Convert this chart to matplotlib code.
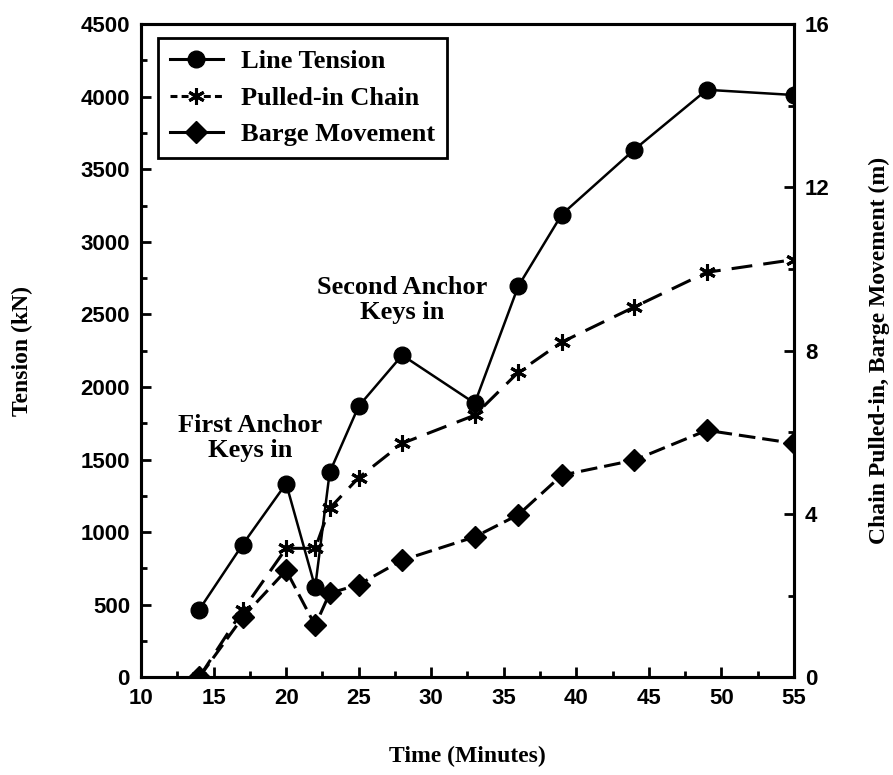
import numpy as np
import matplotlib
matplotlib.use("Agg")
import matplotlib.pyplot as plt
from matplotlib.lines import Line2D
from matplotlib.ticker import MultipleLocator

time = [14, 17, 20, 22, 23, 25, 28, 33, 36, 39, 44, 49, 55]
tension = [465, 915, 1335, 620, 1412, 1868, 2219, 1888, 2694, 3188, 3635, 4047, 4011]
chain = [0, 1.64, 3.16, 3.16, 4.14, 4.89, 5.73, 6.42, 7.47, 8.21, 9.07, 9.92, 10.23]
barge = [0, 1.47, 2.62, 1.27, 2.06, 2.27, 2.87, 3.44, 3.98, 4.95, 5.32, 6.05, 5.73]

plt.rcParams['lines.scale_dashes'] = False
serif = {'family': 'Liberation Serif', 'weight': 'bold'}
sans = 'Liberation Sans'

fig = plt.figure(figsize=(8.93, 7.75), dpi=100)
ax = fig.add_axes([0.158, 0.126, 0.731, 0.843])
ax2 = ax.twinx()

lw = 1.8
ax.plot(time, tension, color='black', lw=lw, marker='o', ms=12, zorder=3)
ax2.plot(time, chain, color='black', lw=2.2, dashes=(15, 8), marker=(6, 2, 0),
         ms=12, mew=2.2, zorder=3)
ax2.plot(time, barge, color='black', lw=2.2, dashes=(12, 5), marker='D', ms=11, zorder=3)

ax.set_xlim(10, 55)
ax.set_ylim(0, 4500)
ax2.set_ylim(0, 16)

ax.xaxis.set_major_locator(MultipleLocator(5))
ax.xaxis.set_minor_locator(MultipleLocator(2.5))
ax.yaxis.set_major_locator(MultipleLocator(500))
ax.yaxis.set_minor_locator(MultipleLocator(250))
ax2.yaxis.set_major_locator(MultipleLocator(4))
ax2.yaxis.set_minor_locator(MultipleLocator(2))

for a in (ax, ax2):
    for s in a.spines.values():
        s.set_linewidth(2.2)
    a.tick_params(which='both', direction='in', width=2, colors='black')
    a.tick_params(which='major', length=7, labelsize=16, pad=8)
    a.tick_params(which='minor', length=4)
    for lab in a.get_xticklabels() + a.get_yticklabels():
        lab.set_family(sans)
        lab.set_fontweight('bold')
ax.tick_params(axis='x', top=False)
ax.tick_params(axis='y', right=False)

ax.set_xlabel('Time (Minutes)', fontdict=serif, fontsize=17, labelpad=26)
ax.set_ylabel('Tension (kN)', fontdict=serif, fontsize=17, labelpad=34)
ax2.set_ylabel('Chain Pulled-in, Barge Movement (m)', fontdict=serif, fontsize=17, labelpad=28)

ax.text(17.5, 1650, 'First Anchor\nKeys in', ha='center', va='center',
        fontdict=serif, fontsize=19, linespacing=1.1)
ax.text(28, 2600, 'Second Anchor\nKeys in', ha='center', va='center',
        fontdict=serif, fontsize=19, linespacing=1.1)

handles = [
    Line2D([], [], color='black', lw=2.2, marker='o', ms=12),
    Line2D([], [], color='black', lw=2.2, dashes=(5, 3), marker=(6, 2, 0), ms=12, mew=2.2),
    Line2D([], [], color='black', lw=2.2, marker='D', ms=11),
]
leg = ax.legend(handles, ['Line Tension', 'Pulled-in Chain', 'Barge Movement'],
                loc='upper left', bbox_to_anchor=(0.026, 0.979), borderaxespad=0,
                prop={'family': 'Liberation Serif', 'weight': 'bold', 'size': 19},
                fancybox=False, framealpha=1, edgecolor='black', handlelength=2.0,
                labelspacing=0.5, borderpad=0.45, handletextpad=0.7)
leg.get_frame().set_linewidth(2)
leg.set_zorder(5)

fig.savefig('out.png', dpi=100)
